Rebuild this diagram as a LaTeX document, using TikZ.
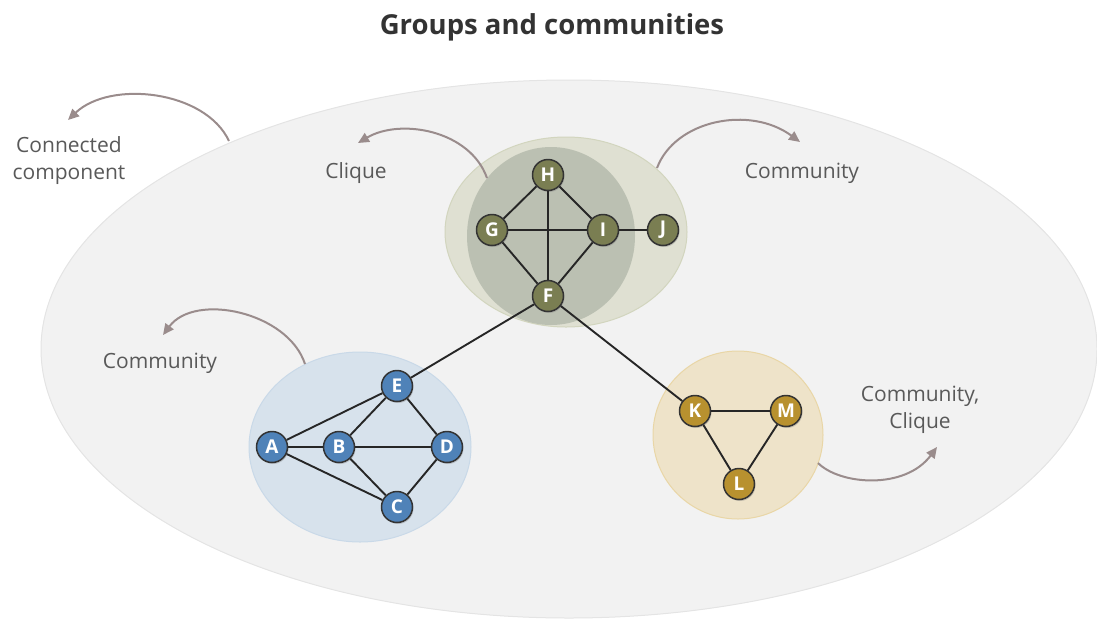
\documentclass[tikz,border=0pt]{standalone}
\usepackage{fontspec}
\setmainfont{Open Sans}
\usetikzlibrary{arrows.meta,shadows}
\definecolor{txtgray}{HTML}{595959}
\definecolor{arrowgray}{HTML}{9A8C8C}
\definecolor{compfill}{HTML}{F2F2F2}
\definecolor{compline}{HTML}{E4E4E4}
\definecolor{grnouter}{HTML}{DFE0D2}
\definecolor{grnouterln}{HTML}{D2D5BE}
\definecolor{grninner}{HTML}{BBC0B2}
\definecolor{grnnode}{HTML}{7A7E52}
\definecolor{bluefill}{HTML}{D7E2EC}
\definecolor{blueln}{HTML}{C9D9E8}
\definecolor{bluenode}{HTML}{4F82B8}
\definecolor{tanfill}{HTML}{EEE3C9}
\definecolor{tanln}{HTML}{E9D6A6}
\definecolor{tannode}{HTML}{B8912F}
\tikzset{
  vertex/.style={circle, minimum size=31pt, inner sep=0pt, draw=black!80, line width=1.5pt,
    text=white, font=\bfseries\fontsize{19}{19}\selectfont,
    drop shadow={opacity=0.35, shadow xshift=1pt, shadow yshift=-1.5pt}},
  gv/.style={vertex, fill=grnnode},
  bv/.style={vertex, fill=bluenode},
  tv/.style={vertex, fill=tannode},
  edge/.style={line width=1.9pt, draw=black!85},
  callout/.style={line width=2pt, draw=arrowgray, -{Triangle[length=11pt,width=10pt]}},
  caption/.style={text=txtgray, font=\fontsize{21}{27}\selectfont, align=center},
}
\begin{document}
\begin{tikzpicture}[x=1pt,y=-1pt]
\useasboundingbox (0,0) rectangle (1097,619);

% title
\node[text=black!80, font=\bfseries\fontsize{27.5}{33}\selectfont] (title) at (552,27) {Groups and communities};

% connected component
\draw[fill=compfill, draw=compline, line width=1pt] (569,349) ellipse [x radius=528, y radius=269];

% group regions
\draw[fill=grnouter, draw=grnouterln, line width=1pt] (566,232) ellipse [x radius=121, y radius=95];
\fill[grninner] (551,236) ellipse [x radius=84, y radius=89];
\draw[fill=bluefill, draw=blueln, line width=1pt] (360,447) ellipse [x radius=111, y radius=95];
\draw[fill=tanfill, draw=tanln, line width=1pt] (738,435) ellipse [x radius=85, y radius=84];

% vertices
\node[gv] (H) at (548,175) {H};
\node[gv] (G) at (492,230) {G};
\node[gv] (I) at (603,230) {I};
\node[gv] (J) at (663,230) {J};
\node[gv] (F) at (548,296) {F};
\node[bv] (E) at (397,386) {E};
\node[bv] (A) at (272,447) {A};
\node[bv] (B) at (339,447) {B};
\node[bv] (D) at (447,447) {D};
\node[bv] (C) at (397,507) {C};
\node[tv] (K) at (695,411) {K};
\node[tv] (M) at (786,411) {M};
\node[tv] (L) at (739,484) {L};

% edges
\draw[edge] (H) -- (G);
\draw[edge] (H) -- (I);
\draw[edge] (H) -- (F);
\draw[edge] (G) -- (I);
\draw[edge] (G) -- (F);
\draw[edge] (I) -- (F);
\draw[edge] (I) -- (J);
\draw[edge] (F) -- (E);
\draw[edge] (F) -- (K);
\draw[edge] (A) -- (E);
\draw[edge] (A) -- (B);
\draw[edge] (A) -- (C);
\draw[edge] (B) -- (E);
\draw[edge] (B) -- (D);
\draw[edge] (B) -- (C);
\draw[edge] (E) -- (D);
\draw[edge] (D) -- (C);
\draw[edge] (K) -- (M);
\draw[edge] (K) -- (L);
\draw[edge] (M) -- (L);

% captions
\node[caption] (capcc) at (69,161) {Connected\\component};
\node[caption] (capcl) at (356,173) {Clique};
\node[caption] (capct) at (802,173) {Community};
\node[caption] (capcm) at (160,363) {Community};
\node[caption] (capkc) at (920,410) {Community,\\Clique};

% callout arrows
\coordinate (s1) at (229,141);
\coordinate (t1) at (68,120);
\coordinate (s2) at (305,364);
\coordinate (t2) at (163,335);
\coordinate (s3) at (487,178);
\coordinate (t3) at (358,143);
\coordinate (s4) at (657,168);
\coordinate (t4) at (800,142);
\coordinate (s5) at (818,463);
\coordinate (t5) at (937,447);
\draw[callout] (s1) .. controls (205,90) and (110,80) .. (t1);
\draw[callout] (s2) .. controls (288,312) and (195,292) .. (t2);
\draw[callout] (s3) .. controls (470,130) and (400,118) .. (t3);
\draw[callout] (s4) .. controls (675,120) and (750,105) .. (t4);
\draw[callout] (s5) .. controls (840,485) and (905,490) .. (t5);
\end{tikzpicture}
\end{document}
